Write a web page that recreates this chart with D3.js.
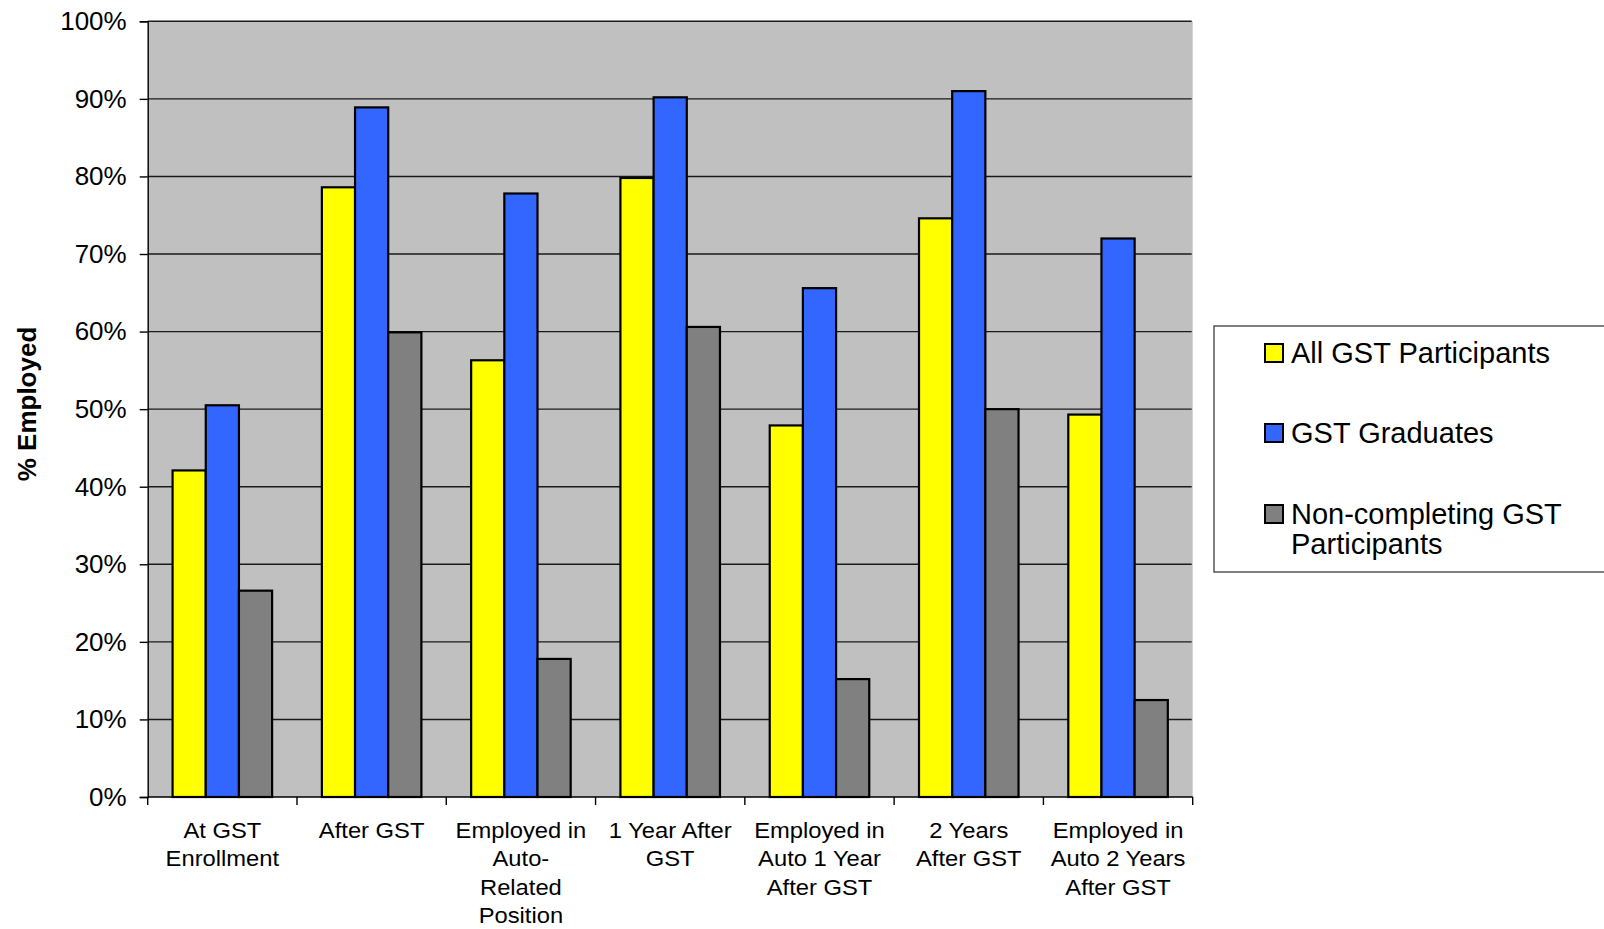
<!DOCTYPE html>
<html><head><meta charset="utf-8">
<script src="https://cdn.jsdelivr.net/npm/d3@7"></script>
<style>
html,body{margin:0;padding:0;background:#fff;}
svg{display:block;font-family:"Liberation Sans",Arial,sans-serif;}
</style></head>
<body>
<svg id="chart" width="1604" height="929"></svg>
<script>
const categories = [
  ["At GST","Enrollment"],
  ["After GST"],
  ["Employed in","Auto-","Related","Position"],
  ["1 Year After","GST"],
  ["Employed in","Auto 1 Year","After GST"],
  ["2 Years","After GST"],
  ["Employed in","Auto 2 Years","After GST"]
];
const seriesNames = ["All GST Participants","GST Graduates","Non-completing GST Participants"];
const seriesLegendLines = [["All GST Participants"],["GST Graduates"],["Non-completing GST","Participants"]];
const seriesColors = ["#FFFF00","#3366FF","#808080"];
const allParticipants = [0.421,0.786,0.563,0.798,0.479,0.746,0.493];
const graduates       = [0.505,0.889,0.778,0.902,0.656,0.910,0.720];
const nonCompleting   = [0.266,0.599,0.178,0.606,0.152,0.500,0.125];
const yTicks = [0,0.1,0.2,0.3,0.4,0.5,0.6,0.7,0.8,0.9,1.0];
const yTitle = "% Employed";

const seriesValues = [allParticipants, graduates, nonCompleting];
const svg = d3.select("#chart");
const L = 147.7, R = 1192.7, T = 21.3, B = 797;
const catKeys = categories.map((c,i)=>i);
const x = d3.scaleBand().domain(catKeys).range([L,R]).paddingInner(0).paddingOuter(0);
const x1 = d3.scaleBand().domain(d3.range(3)).range([0,x.bandwidth()]).paddingInner(0).paddingOuter(0.75);
const y = d3.scaleLinear().domain([0,1]).range([B,T]);

// plot background
svg.append("rect").attr("x",L).attr("y",T).attr("width",R-L).attr("height",B-T).attr("fill","#C0C0C0");

// gridlines
svg.append("g").selectAll("line").data(yTicks.filter(d=>d>0)).join("line")
  .attr("x1",L).attr("x2",R-1).attr("y1",d=>y(d)).attr("y2",d=>y(d))
  .attr("stroke","#1a1a1a").attr("stroke-width",1.4);

// bars
const groups = svg.append("g").selectAll("g").data(catKeys).join("g")
  .attr("transform",d=>`translate(${x(d)},0)`);
groups.selectAll("rect").data(ci=>seriesValues.map((s,si)=>({si,v:s[ci]}))).join("rect")
  .attr("x",d=>x1(d.si)).attr("width",x1.bandwidth())
  .attr("y",d=>y(d.v)).attr("height",d=>B-y(d.v))
  .attr("fill",d=>seriesColors[d.si]).attr("stroke","#000").attr("stroke-width",2.2);

// y axis
const yAxis = d3.axisLeft(y).tickValues(yTicks).tickFormat(d3.format(".0%")).tickSize(8).tickPadding(13);
const ya = svg.append("g").attr("transform",`translate(${L},0)`).call(yAxis);
ya.select(".domain").attr("stroke","#000").attr("stroke-width",1.4);
ya.selectAll(".tick line").attr("stroke","#000").attr("stroke-width",1.4);
ya.selectAll(".tick text").attr("font-size",26).attr("fill","#000").attr("font-family","'Liberation Sans',Arial,sans-serif");

// x axis
const xBoundaries = d3.range(categories.length+1).map(i=>L+i*x.step());
const xa = svg.append("g");
xa.append("line").attr("x1",L).attr("x2",R).attr("y1",B).attr("y2",B).attr("stroke","#000").attr("stroke-width",1.4);
xa.selectAll("line.t").data(xBoundaries).join("line").attr("class","t")
  .attr("x1",d=>d).attr("x2",d=>d).attr("y1",B).attr("y2",B+8).attr("stroke","#000").attr("stroke-width",1.4);
const labels = xa.selectAll("g.lab").data(catKeys).join("g").attr("class","lab")
  .attr("transform",d=>`translate(${x(d)+x.bandwidth()/2},838) scale(1.08,1)`);
labels.selectAll("text").data(ci=>categories[ci]).join("text")
  .attr("x",0).attr("y",(d,i)=>i*28.5).attr("text-anchor","middle")
  .attr("font-size",22).attr("fill","#000").text(d=>d);

// y title
svg.append("text").attr("transform","translate(36,404) rotate(-90)")
  .attr("text-anchor","middle").attr("font-size",26).attr("font-weight","bold").attr("fill","#000").text(yTitle);

// legend
svg.append("rect").attr("x",1214).attr("y",326).attr("width",420).attr("height",246)
  .attr("fill","#fff").attr("stroke","#555").attr("stroke-width",1.5);
const legY = [363,443,524];
const leg = svg.append("g").selectAll("g").data(seriesNames).join("g")
  .attr("transform",(d,i)=>`translate(1265,${legY[i]})`);
leg.append("rect").attr("x",0).attr("y",-19).attr("width",18).attr("height",18)
  .attr("fill",(d,i)=>seriesColors[i]).attr("stroke","#000").attr("stroke-width",2);
leg.each(function(d,i){
  d3.select(this).selectAll("text").data(seriesLegendLines[i]).join("text")
    .attr("x",26).attr("y",(t,j)=>j*30).attr("font-size",29).attr("fill","#000").text(t=>t);
});
</script>
</body></html>
